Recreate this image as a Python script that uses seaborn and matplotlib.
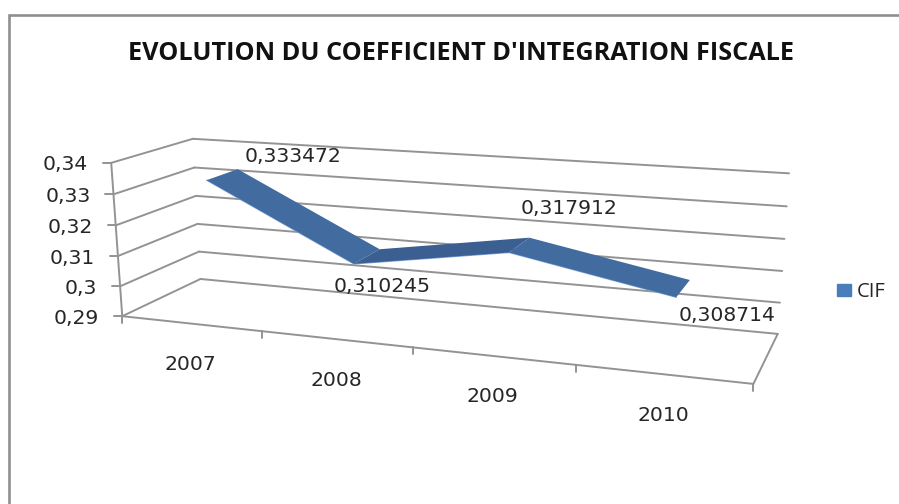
import numpy as np
import pandas as pd
import seaborn as sns
import matplotlib.pyplot as plt
from matplotlib.patches import Patch, Polygon

# Data
years = ['2007', '2008', '2009', '2010']
cif = [0.333472, 0.310245, 0.317912, 0.308714]
cif_labels = ['0,333472', '0,310245', '0,317912', '0,308714']
y_ticks = [0.29, 0.30, 0.31, 0.32, 0.33, 0.34]
y_tick_labels = ['0,29', '0,3', '0,31', '0,32', '0,33', '0,34']
title = "EVOLUTION DU COEFFICIENT D'INTEGRATION FISCALE"

Y_MIN, Y_MAX = y_ticks[0], y_ticks[-1]

# corners of the 3D box: (along x, value 0-1, depth) -> pixel
box_3d = [(0, 0, 0), (0, 1, 0), (0, 0, 1), (0, 1, 1), (1, 0, 1), (1, 1, 1), (1, 0, 0),
          (.25, 0, 0), (.75, 0, 0)]
box_px = [(123, 315), (111, 162), (200, 279), (193, 139), (778, 333), (789, 174), (754, 382),
          (262, 333), (575, 367)]


# fit the perspective camera to the corners
def fit_camera(pts3, pts2):
    rows = []
    for (a, b, c), (px, py) in zip(pts3, pts2):
        rows.append([a, b, c, 1, 0, 0, 0, 0, -px * a, -px * b, -px * c, -px])
        rows.append([0, 0, 0, 0, a, b, c, 1, -py * a, -py * b, -py * c, -py])
    return np.linalg.svd(np.array(rows, dtype=float))[2][-1].reshape(3, 4)


cam = fit_camera(box_3d, box_px)


def project(u, value, depth):
    v = (value - Y_MIN) / (Y_MAX - Y_MIN)
    p = cam @ np.array([u, v, depth, 1.0])
    return p[0] / p[2], p[1] / p[2]


def seg_frame(segments):
    rows = []
    for i, (a, b) in enumerate(segments):
        rows.append({'x': a[0], 'y': a[1], 'seg': i})
        rows.append({'x': b[0], 'y': b[1], 'seg': i})
    return pd.DataFrame(rows)


def draw_segments(ax, segments, color, lw):
    sns.lineplot(data=seg_frame(segments), x='x', y='y', units='seg', estimator=None, sort=False,
                 color=color, linewidth=lw, ax=ax, legend=False)


sns.set_theme(style='white')
plt.rcParams['font.family'] = ['Open Sans', 'DejaVu Sans']

fig = plt.figure(figsize=(8.99, 5.04), dpi=100)
ax = fig.add_axes([0, 0, 1, 1])
ax.set_xlim(0, 899)
ax.set_ylim(504, 0)
ax.axis('off')

# outer chart frame
ax.plot([9.3, 9.3, 899], [504, 15, 15], color='#8f8f8f', lw=1.9, solid_joinstyle='miter')

grid_color = '#939393'
# gridlines on back and side walls
back = [(project(0, t, 1), project(1, t, 1)) for t in y_ticks]
side = [(project(0, t, 0), project(0, t, 1)) for t in y_ticks]
draw_segments(ax, back + side, grid_color, 1.4)

# floor and axes
floor = [(project(0, Y_MIN, 0), project(1, Y_MIN, 0)),
         (project(1, Y_MIN, 0), project(1, Y_MIN, 1)),
         (project(0, Y_MIN, 0), project(0, Y_MAX, 0))]
for t in y_ticks:
    a = project(0, t, 0)
    floor.append((a, (a[0] - 8, a[1])))
for u in [0, .25, .5, .75, 1]:
    a = project(u, Y_MIN, 0)
    floor.append((a, (a[0], a[1] + 7)))
draw_segments(ax, floor, grid_color, 1.4)

# the ribbon
FRONT, REAR = 0.29, 0.70
u_pos = [(i + .5) / len(years) for i in range(len(years))]
seg_colors = ['#426b9f', '#3a5f90', '#426b9f']
for i in range(len(cif) - 1):
    quad = [project(u_pos[i], cif[i], FRONT), project(u_pos[i], cif[i], REAR),
            project(u_pos[i + 1], cif[i + 1], REAR), project(u_pos[i + 1], cif[i + 1], FRONT)]
    ax.add_patch(Polygon(quad, closed=True, facecolor=seg_colors[i], edgecolor='none', zorder=3))
edge = [(project(u_pos[i], cif[i], FRONT), project(u_pos[i + 1], cif[i + 1], FRONT))
        for i in range(len(cif) - 1)]
draw_segments(ax, edge, '#7ba3d8', 1.0)

text_color = '#262626'
label_font = dict(family='DejaVu Sans', fontsize=14.7, color=text_color)
# data labels, offsets from the ribbon point
label_offsets = [(70, -18), (15, 30), (50, -36), (44, 27)]
for i, lab in enumerate(cif_labels):
    x, y = project(u_pos[i], cif[i], (FRONT + REAR) / 2)
    ax.text(x + label_offsets[i][0], y + label_offsets[i][1], lab, ha='center', va='center',
            zorder=5, **label_font)

# axis labels
for t, lab in zip(y_ticks, y_tick_labels):
    x, y = project(0, t, 0)
    ax.text(x - 23, y + 2, lab, ha='right', va='center', **label_font)
for i, lab in enumerate(years):
    x, y = project(u_pos[i], Y_MIN, 0)
    ax.text(x, y + 41, lab, ha='center', va='center', **label_font)

ax.text(461, 53, title, ha='center', va='center', fontsize=18.2, fontweight='bold', color='#111111')

ax.legend(handles=[Patch(color='#4a7ebb', label='CIF')], loc='center left',
          bbox_to_anchor=(837 / 899, 1 - 292 / 504), frameon=False, fontsize=14.5,
          borderpad=0, borderaxespad=0,
          handlelength=0.7, handleheight=0.6, handletextpad=0.3, labelcolor=text_color)

fig.savefig('out.png', dpi=100)
